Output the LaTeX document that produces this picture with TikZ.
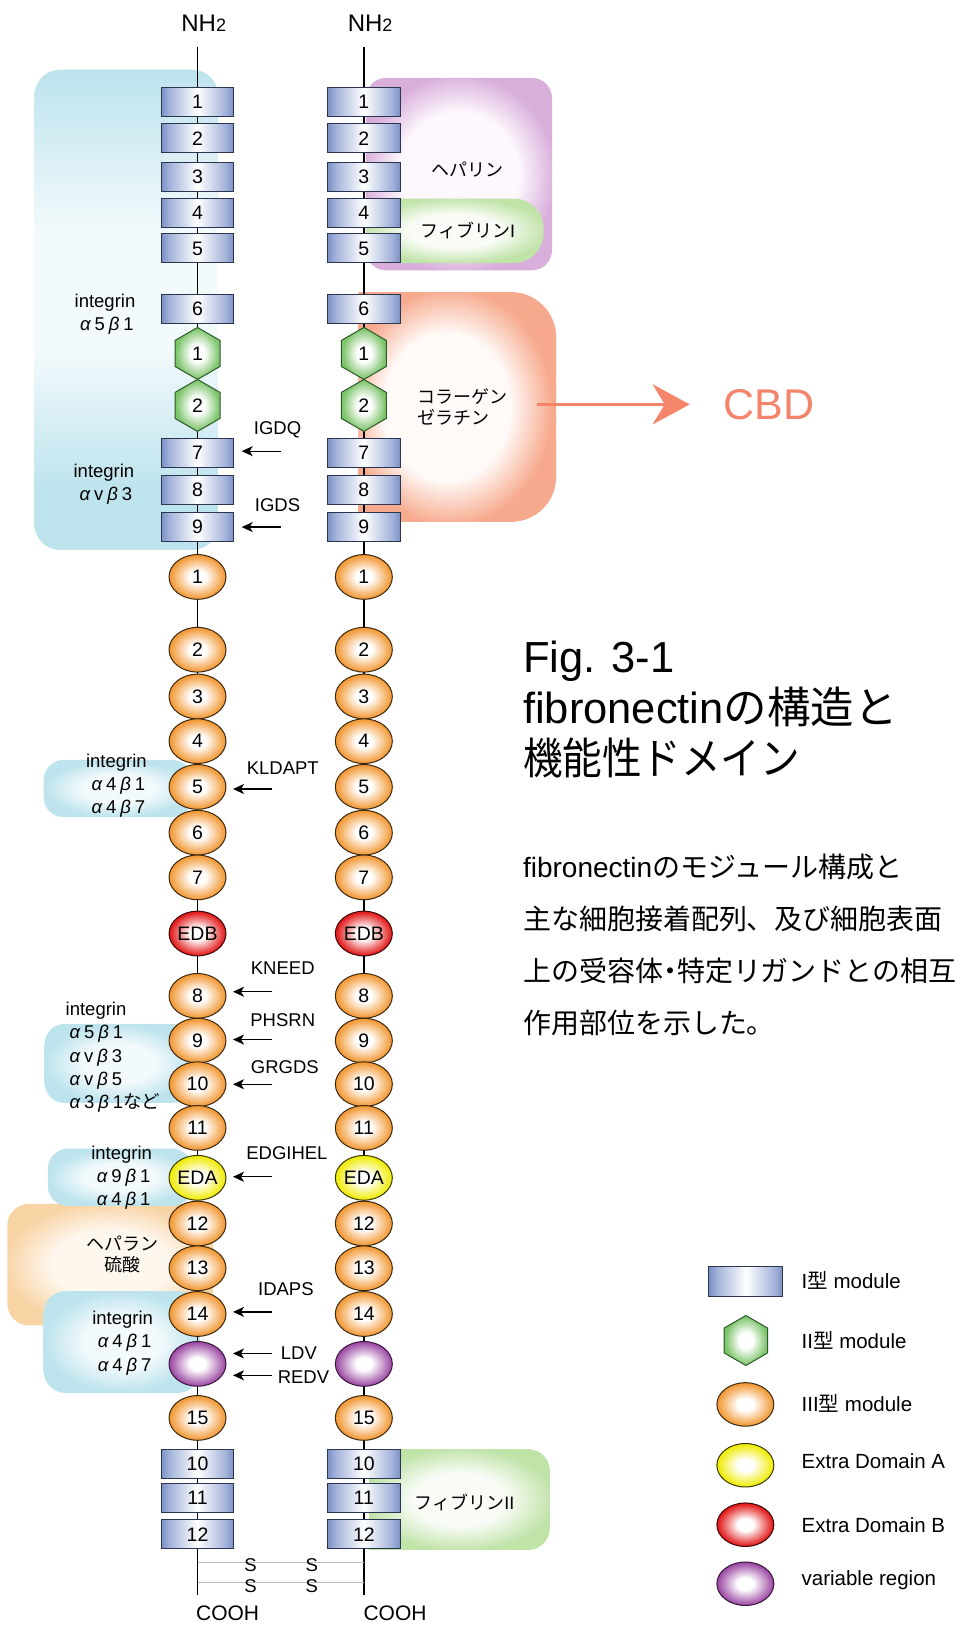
\documentclass[tikz,border=0pt]{standalone}
\usepackage{fontspec}
\setmainfont{Liberation Sans}
\newfontfamily\ja{Noto Sans CJK JP}
\usetikzlibrary{shapes.geometric,arrows.meta}

\definecolor{cI}{HTML}{7A90C4}
\definecolor{cIm}{HTML}{A4B4DA}
\definecolor{cIb}{HTML}{2B3550}
\definecolor{cII}{HTML}{7CC46A}
\definecolor{cIIb}{HTML}{2C5A2A}
\definecolor{cIII}{HTML}{F29A38}
\definecolor{cIIIb}{HTML}{3A2810}
\definecolor{cA}{HTML}{F0EC0A}
\definecolor{cAb}{HTML}{3A3800}
\definecolor{cB}{HTML}{E21C1C}
\definecolor{cBb}{HTML}{3A0808}
\definecolor{cV}{HTML}{9E4EA6}
\definecolor{cVb}{HTML}{38163C}
\definecolor{bgB}{HTML}{BDE3ED}
\definecolor{bgBl}{HTML}{F3FAFC}
\definecolor{bgP}{HTML}{D8AEDB}
\definecolor{bgPl}{HTML}{FDF8FD}
\definecolor{bgG}{HTML}{C0E3A8}
\definecolor{bgGl}{HTML}{F9FCF6}
\definecolor{bgS}{HTML}{F6A98C}
\definecolor{bgSl}{HTML}{FFFAF8}
\definecolor{bgO}{HTML}{F8D3A4}
\definecolor{bgOl}{HTML}{FEF7EE}
\definecolor{cbd}{HTML}{F4846A}
\definecolor{ssgray}{HTML}{BBBBBB}

% TikZ maps the central 50bp of a 100bp shading onto the path
\pgfdeclarehorizontalshading{shI}{100bp}{color(0bp)=(cI); color(25bp)=(cI); color(31bp)=(cIm); color(50bp)=(white); color(69bp)=(cIm); color(75bp)=(cI); color(100bp)=(cI)}
\pgfdeclareradialshading{shII}{\pgfpoint{0bp}{0bp}}{color(0bp)=(white); color(8bp)=(white); color(24bp)=(cII); color(50bp)=(cII)}
\pgfdeclareradialshading{shIII}{\pgfpoint{0bp}{0bp}}{color(0bp)=(white); color(7bp)=(white); color(24bp)=(cIII); color(50bp)=(cIII)}
\pgfdeclareradialshading{shA}{\pgfpoint{0bp}{0bp}}{color(0bp)=(white); color(7bp)=(white); color(24bp)=(cA); color(50bp)=(cA)}
\pgfdeclareradialshading{shB}{\pgfpoint{0bp}{0bp}}{color(0bp)=(white); color(7bp)=(white); color(24bp)=(cB); color(50bp)=(cB)}
\pgfdeclareradialshading{shV}{\pgfpoint{0bp}{0bp}}{color(0bp)=(white); color(7bp)=(white); color(24bp)=(cV); color(50bp)=(cV)}
\pgfdeclareradialshading{shBgB}{\pgfpoint{0bp}{0bp}}{color(0bp)=(bgBl); color(12bp)=(bgBl); color(25bp)=(bgB); color(50bp)=(bgB)}
\pgfdeclareradialshading{shBgP}{\pgfpoint{0bp}{0bp}}{color(0bp)=(bgPl); color(16bp)=(bgPl); color(26bp)=(bgP); color(50bp)=(bgP)}
\pgfdeclareradialshading{shBgG}{\pgfpoint{0bp}{0bp}}{color(0bp)=(bgGl); color(13bp)=(bgGl); color(26bp)=(bgG); color(50bp)=(bgG)}
\pgfdeclareradialshading{shBgS}{\pgfpoint{-4bp}{0bp}}{color(0bp)=(bgSl); color(16bp)=(bgSl); color(26bp)=(bgS); color(50bp)=(bgS)}
\pgfdeclareradialshading{shBgO}{\pgfpoint{0bp}{0bp}}{color(0bp)=(bgOl); color(14bp)=(bgOl); color(26bp)=(bgO); color(50bp)=(bgO)}
\pgfdeclareverticalshading{shBgTL}{100bp}{color(0bp)=(bgB); color(25bp)=(bgB); color(31bp)=(bgB); color(46bp)=(bgBl); color(58bp)=(bgBl); color(75bp)=(bgB); color(100bp)=(bgB)}

\newcommand\modf{\fontsize{19.5}{19.5}\selectfont}
\newcommand\lblf{\fontsize{18.5}{23.3}\selectfont}
\newcommand\jlf{\fontsize{18}{21}\selectfont\ja}
\newcommand\gk[1]{\makebox[1em]{\itshape #1}}

\begin{document}
\begin{tikzpicture}[x=1.04pt,y=-1.04pt, inner sep=0pt,
  t1/.style={rectangle, draw=cIb, line width=1pt, shade, shading=shI, minimum width=72.8pt, minimum height=29pt, font=\modf},
  t2/.style={regular polygon, regular polygon sides=6, shape border rotate=30, draw=cIIb, line width=1pt, shade, shading=shII, minimum size=52pt, font=\modf},
  t3/.style={ellipse, draw=cIIIb, line width=1pt, shade, shading=shIII, minimum width=57pt, minimum height=44.7pt, font=\modf},
  ta/.style={t3, draw=cAb, shading=shA},
  tb/.style={t3, draw=cBb, shading=shB},
  tv/.style={t3, draw=cVb, shading=shV},
  chainline/.style={line width=1.4pt, black},
  ssline/.style={line width=1.2pt, ssgray},
  pep/.style={-{Stealth[length=11pt,width=10pt,inset=3pt]}, line width=1.3pt},
  lbl/.style={font=\lblf, align=center},
  jlbl/.style={font=\jlf, align=center},
  leg/.style={font=\fontsize{20.5}{20.5}\selectfont, anchor=west}
]
\useasboundingbox (0,0) rectangle (925,1568);
\fill[white] (0,0) rectangle (925,1568);

% background regions
\shade[shading=shBgTL, rounded corners=26pt] (33,67) rectangle (210,529);
\shade[shading=shBgP, rounded corners=20pt] (352,75) rectangle (531,260);
\shade[shading=shBgG, rounded corners=30pt] (352,191) rectangle (523,253);
\shade[shading=shBgS] (345,391) [sharp corners] -- (345,281) [rounded corners=45pt] -- (535,281) -- (535,502) [sharp corners] -- (345,502) -- cycle;
\shade[shading=shBgB, rounded corners=20pt] (42,731) rectangle (185,786);
\shade[shading=shBgB, rounded corners=20pt] (43,985) rectangle (185,1061);
\shade[shading=shBgO, rounded corners=22pt] (7,1158) rectangle (205,1275);
\shade[shading=shBgB, rounded corners=20pt] (46,1105) rectangle (185,1160);
\shade[shading=shBgB, rounded corners=22pt] (42,1242) rectangle (192,1340);
\shade[shading=shBgG] (355,1442) [sharp corners] -- (355,1394) [rounded corners=22pt] -- (529,1394) -- (529,1491) [sharp corners] -- (355,1491) -- cycle;

% chains
\coordinate (Ltop) at (190,45);
\coordinate (Lbot) at (190,1534);
\coordinate (Rtop) at (350,45);
\coordinate (Rbot) at (350,1534);
\draw[chainline] (Ltop) -- (Lbot);
\draw[chainline] (Rtop) -- (Rbot);

% disulfide bonds
\coordinate (SaL) at (190,1503);
\coordinate (SaR) at (350,1503);
\coordinate (SbL) at (190,1522);
\coordinate (SbR) at (350,1522);
\draw[ssline] (SaL) -- (SaR);
\draw[ssline] (SbL) -- (SbR);
\node[font=\fontsize{18.5}{18.5}\selectfont] (S1) at (241,1506) {S};
\node[font=\fontsize{18.5}{18.5}\selectfont] (S2) at (241,1526) {S};
\node[font=\fontsize{18.5}{18.5}\selectfont] (S3) at (300,1506) {S};
\node[font=\fontsize{18.5}{18.5}\selectfont] (S4) at (300,1526) {S};

\node[font=\fontsize{24}{24}\selectfont] (NL) at (196,22) {NH{\fontsize{18}{18}\selectfont 2}};
\node[font=\fontsize{24}{24}\selectfont] (NR) at (356,22) {NH{\fontsize{18}{18}\selectfont 2}};
\node[font=\fontsize{21}{21}\selectfont] (CL) at (219,1552) {COOH};
\node[font=\fontsize{21}{21}\selectfont] (CR) at (380,1552) {COOH};

% modules
\foreach \n/\y in {1/98,2/133,3/170,4/205,5/239,6/297,7/436,8/471,9/507,10/1408,11/1441,12/1476} {
  \node[t1] (LI\n) at (190,\y) {\n};
  \node[t1] (RI\n) at (350,\y) {\n};
}
\foreach \n/\y in {1/340,2/390} {
  \node[t2] (LII\n) at (190,\y) {\n};
  \node[t2] (RII\n) at (350,\y) {\n};
}
\foreach \n/\y in {1/555,2/625,3/670,4/713,5/757,6/801,7/844,8/958,9/1001,10/1043,11/1085,12/1177,13/1220,14/1264,15/1364} {
  \node[t3] (LIII\n) at (190,\y) {\n};
  \node[t3] (RIII\n) at (350,\y) {\n};
}
\node[tb] (LEDB) at (190,898) {EDB};
\node[tb] (REDB) at (350,898) {EDB};
\node[ta] (LEDA) at (190,1133) {EDA};
\node[ta] (REDA) at (350,1133) {EDA};
\node[tv] (LV) at (190,1312) {};
\node[tv] (RV) at (350,1312) {};

% left labels
\node[lbl] (int1) at (101,302) {integrin\\\gk{α}5\gk{β}1};
\node[lbl] (int2) at (100,466) {integrin\\\gk{α}v\gk{β}3};
\node[lbl] (int3) at (112,756) {integrin\\\gk{α}4\gk{β}1\\\gk{α}4\gk{β}7};
\node[font=\lblf, align=left, anchor=west] (int4) at (63,1017) {integrin\\\gk{α}5\gk{β}1\\\gk{α}v\gk{β}3\\\gk{α}v\gk{β}5\\\gk{α}3\gk{β}1{\ja など}};
\node[lbl] (int5) at (117,1133) {integrin\\\gk{α}9\gk{β}1\\\gk{α}4\gk{β}1};
\node[jlbl] (hs) at (118,1207) {ヘパラン\\硫酸};
\node[lbl] (int6) at (118,1292) {integrin\\\gk{α}4\gk{β}1\\\gk{α}4\gk{β}7};

% peptide sequences
\node[font=\lblf] (pIGDQ) at (267,413) {IGDQ};
\node[font=\lblf] (pIGDS) at (267,486) {IGDS};
\node[font=\lblf] (pKLDAPT) at (272,739) {KLDAPT};
\node[font=\lblf] (pKNEED) at (272,931) {KNEED};
\node[font=\lblf] (pPHSRN) at (272,981) {PHSRN};
\node[font=\lblf] (pGRGDS) at (274,1027) {GRGDS};
\node[font=\lblf] (pEDGIHEL) at (276,1109) {EDGIHEL};
\node[font=\lblf] (pIDAPS) at (275,1240) {IDAPS};
\node[font=\lblf, anchor=west] (pLDV) at (270,1302) {LDV};
\node[font=\lblf, anchor=west] (pREDV) at (267,1325) {REDV};

\coordinate (aIGDQ) at (270,434);
\coordinate (aIGDS) at (270,507);
\coordinate (aKLDAPT) at (262,759);
\coordinate (aKNEED) at (262,954);
\coordinate (aPHSRN) at (262,1000);
\coordinate (aGRGDS) at (262,1043);
\coordinate (aEDGIHEL) at (262,1132);
\coordinate (aIDAPS) at (262,1262);
\coordinate (aLDV) at (262,1302);
\coordinate (aREDV) at (262,1323);
\draw[pep, shorten >=7.3pt] (aIGDQ) -- (aIGDQ -| LI7.east);
\draw[pep, shorten >=7.3pt] (aIGDS) -- (aIGDS -| LI9.east);
\draw[pep, shorten >=6.5pt] (aKLDAPT) -- (aKLDAPT -| LIII5.east);
\draw[pep, shorten >=6.5pt] (aKNEED) -- (aKNEED -| LIII8.east);
\draw[pep, shorten >=6.5pt] (aPHSRN) -- (aPHSRN -| LIII9.east);
\draw[pep, shorten >=6.5pt] (aGRGDS) -- (aGRGDS -| LIII10.east);
\draw[pep, shorten >=6.5pt] (aEDGIHEL) -- (aEDGIHEL -| LEDA.east);
\draw[pep, shorten >=6.5pt] (aIDAPS) -- (aIDAPS -| LIII14.east);
\draw[pep, shorten >=6.5pt] (aLDV) -- (aLDV -| LV.east);
\draw[pep, shorten >=6.5pt] (aREDV) -- (aREDV -| LV.east);

% right labels
\node[jlbl] (hep) at (450,163) {ヘパリン};
\node[font=\jlf] (fib1) at (450,222) {フィブリン\normalfont\fontsize{18}{21}\selectfont I};
\node[font=\jlf, align=left, anchor=west] (col) at (401,391) {コラーゲン\\ゼラチン};
\node[font=\jlf] (fib2) at (447,1445) {フィブリン\normalfont\fontsize{18}{21}\selectfont II};

% CBD
\coordinate (cbdS) at (517,389);
\node[font=\fontsize{43}{43}\selectfont, text=cbd] (CBD) at (740,389) {CBD};
\draw[cbd, line width=2.8pt, -{Stealth[length=37pt,width=40pt,inset=12pt]}, shorten >=34pt] (cbdS) -- (CBD.west);

% title and description
\node[anchor=base west, font=\fontsize{43.5}{52}\selectfont] (ti1) at (503,647) {Fig. 3-1};
\node[anchor=base west, font=\fontsize{43.5}{52}\selectfont] (ti2) at (503,696) {fibronectin{\ja の構造と}};
\node[anchor=base west, font=\fontsize{43.5}{52}\selectfont\ja] (ti3) at (503,745) {\scalebox{0.91}[1]{機能性ドメイン}};
\node[anchor=base west, font=\fontsize{28}{36}\selectfont] (d1) at (503,844) {fibronectin{\ja のモジュール構成と}};
\node[anchor=base west, font=\fontsize{28}{36}\selectfont\ja] (d2) at (503,894) {主な細胞接着配列、及び細胞表面};
\node[anchor=base west, font=\fontsize{28}{36}\selectfont\ja] (d3) at (503,944) {上の受容体\makebox[0.5em]{・}特定リガンドとの相互};
\node[anchor=base west, font=\fontsize{28}{36}\selectfont\ja] (d4) at (503,994) {作用部位を示した。};

% legend
\node[t1, minimum width=74pt, minimum height=30pt] (gI) at (717.5,1232.5) {};
\node[t2, minimum size=50pt] (gII) at (717.5,1289.5) {};
\node[t3, minimum width=57pt, minimum height=43.5pt] (gIII) at (717,1351) {};
\node[ta, minimum width=57pt, minimum height=43.5pt] (gA) at (717,1409.5) {};
\node[tb, minimum width=57pt, minimum height=43.5pt] (gB) at (717,1466.7) {};
\node[tv, minimum width=57pt, minimum height=43.5pt] (gV) at (717,1523.5) {};
\node[leg] (tI) at (771,1232) {I{\ja 型} module};
\node[leg] (tII) at (771,1289) {II{\ja 型} module};
\node[leg] (tIII) at (771,1350) {III{\ja 型} module};
\node[leg] (tA) at (771,1406) {Extra Domain A};
\node[leg] (tB) at (771,1467) {Extra Domain B};
\node[leg] (tV) at (771,1520) {variable region};
\end{tikzpicture}
\end{document}
